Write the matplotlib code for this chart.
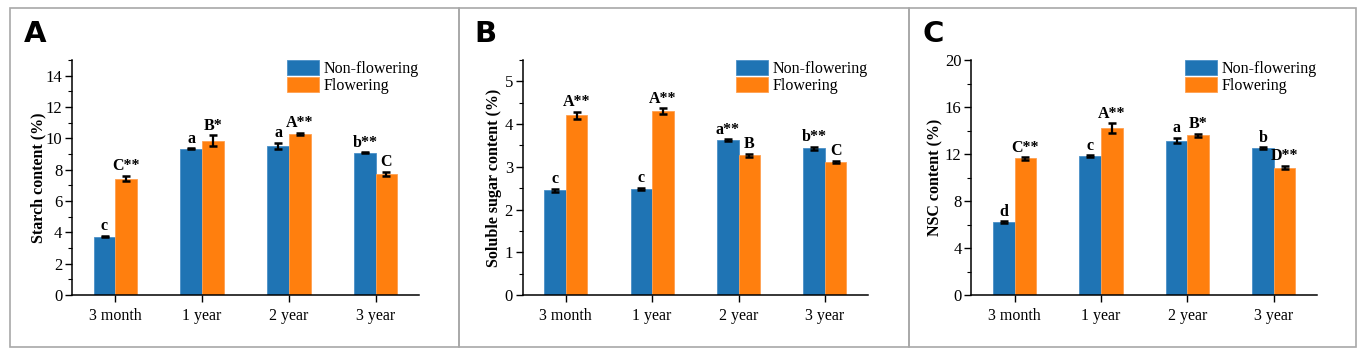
import matplotlib.pyplot as plt
import numpy as np
from matplotlib.patches import Rectangle
from matplotlib.ticker import MultipleLocator

plt.rcParams['font.family'] = ['Liberation Serif', 'DejaVu Serif']

categories = ['3 month', '1 year', '2 year', '3 year']

starch_non = [3.73, 9.33, 9.50, 9.08]
starch_non_err = [0.04, 0.03, 0.20, 0.03]
starch_flo = [7.43, 9.85, 10.30, 7.72]
starch_flo_err = [0.18, 0.35, 0.07, 0.15]
starch_non_lab = ['c', 'a', 'a', 'b**']
starch_flo_lab = ['C**', 'B*', 'A**', 'C']

sugar_non = [2.45, 2.48, 3.62, 3.43]
sugar_non_err = [0.03, 0.02, 0.02, 0.04]
sugar_flo = [4.21, 4.30, 3.27, 3.12]
sugar_flo_err = [0.08, 0.07, 0.03, 0.02]
sugar_non_lab = ['c', 'c', 'a**', 'b**']
sugar_flo_lab = ['A**', 'A**', 'B', 'C']

nsc_non = [6.19, 11.83, 13.14, 12.51]
nsc_non_err = [0.07, 0.06, 0.22, 0.06]
nsc_flo = [11.63, 14.20, 13.60, 10.85]
nsc_flo_err = [0.10, 0.42, 0.12, 0.13]
nsc_non_lab = ['d', 'c', 'a', 'b']
nsc_flo_lab = ['C**', 'A**', 'B*', 'D**']

blue = '#1f74b4'
orange = '#ff7f0e'

W, H = 1358, 348
fig = plt.figure(figsize=(W / 100, H / 100), dpi=100)

# panel frames
for x0, x1 in [(10, 459), (459, 909), (909, 1356)]:
    fig.add_artist(Rectangle((x0 / W, 1 - 347 / H), (x1 - x0) / W, (347 - 8) / H,
                             transform=fig.transFigure, fill=False,
                             edgecolor='#a8a8a8', linewidth=1.2))


def panel(left, right, letter, letter_x, non, non_err, flo, flo_err, non_lab, flo_lab,
          ymax, major, minor, ylabel, lab_off, ylab_x):
    ax = fig.add_axes([left / W, 1 - 295 / H, (right - left) / W, (295 - 60) / H])
    x = np.arange(len(categories))
    w = 0.25
    ax.bar(x - w / 2, non, w, color=blue, edgecolor='#4a90c8', linewidth=0.6,
           label='Non-flowering', zorder=2)
    ax.bar(x + w / 2, flo, w, color=orange, edgecolor='#ffa050', linewidth=0.6,
           label='Flowering', zorder=2)
    ax.errorbar(x - w / 2, non, yerr=non_err, fmt='none', ecolor='black',
                elinewidth=1.6, capsize=3, capthick=1.8, zorder=3)
    ax.errorbar(x + w / 2, flo, yerr=flo_err, fmt='none', ecolor='black',
                elinewidth=1.6, capsize=3, capthick=1.8, zorder=3)
    for i in range(len(categories)):
        ax.text(x[i] - w / 2, non[i] + non_err[i] + lab_off, non_lab[i],
                ha='center', va='bottom', fontsize=11.5, fontweight='bold')
        ax.text(x[i] + w / 2, flo[i] + flo_err[i] + lab_off, flo_lab[i],
                ha='center', va='bottom', fontsize=11.5, fontweight='bold')
    ax.set_xlim(-0.5, 3.5)
    ax.set_ylim(0, ymax)
    ax.set_xticks(x)
    ax.set_xticklabels(categories, fontsize=11.5)
    ax.yaxis.set_major_locator(MultipleLocator(major))
    ax.yaxis.set_minor_locator(MultipleLocator(minor))
    ax.tick_params(axis='y', labelsize=12, length=5, width=1, pad=2)
    ax.tick_params(axis='y', which='minor', length=3, width=0.8)
    ax.tick_params(axis='x', length=5, width=1, pad=4)
    ax.spines['top'].set_visible(False)
    ax.spines['right'].set_visible(False)
    for s in ['left', 'bottom']:
        ax.spines[s].set_linewidth(1.1)
    ax.set_ylabel(ylabel, fontsize=11.5, fontweight='bold')
    ax.yaxis.set_label_coords(ylab_x, 0.5)
    ax.legend(loc='upper right', frameon=False, fontsize=11.5, handlelength=2.0,
              handleheight=1.1, labelspacing=0.0, handletextpad=0.3,
              borderaxespad=0.0, borderpad=0.0, bbox_to_anchor=(1.0, 1.0))
    fig.text(letter_x / W, 1 - 34 / H, letter, fontsize=21, fontweight='bold',
             family='DejaVu Sans', ha='left', va='center')
    return ax


panel(72, 419, 'A', 24, starch_non, starch_non_err, starch_flo, starch_flo_err,
      starch_non_lab, starch_flo_lab, 15, 2, 1, 'Starch content (%)', 0.1, -0.075)
panel(522.7, 868, 'B', 474, sugar_non, sugar_non_err, sugar_flo, sugar_flo_err,
      sugar_non_lab, sugar_flo_lab, 5.5, 1, 0.5, 'Soluble sugar content (%)', 0.04, -0.06)
panel(971.3, 1317, 'C', 922, nsc_non, nsc_non_err, nsc_flo, nsc_flo_err,
      nsc_non_lab, nsc_flo_lab, 20, 4, 2, 'NSC content (%)', 0.13, -0.08)

fig.savefig('out.png', dpi=100)
